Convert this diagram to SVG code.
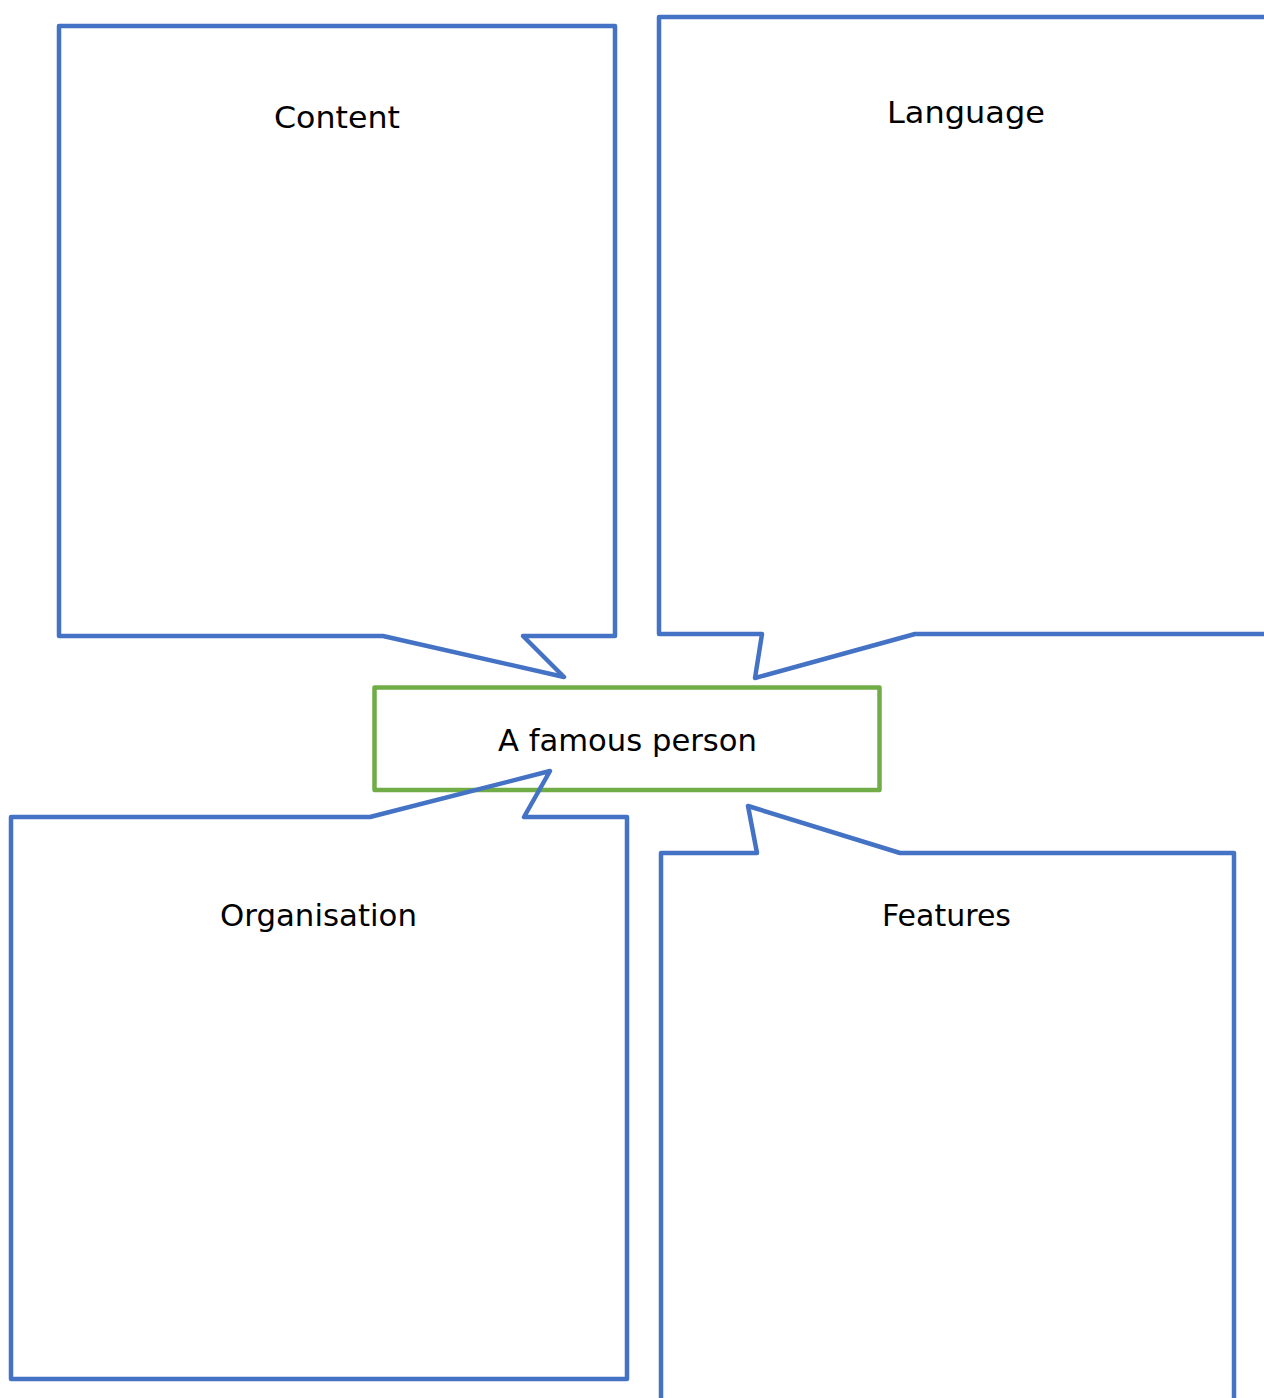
<svg xmlns="http://www.w3.org/2000/svg" width="1264" height="1398" viewBox="0 0 1264 1398">
  <style>
    .callout { fill: none; stroke: #4472C4; stroke-width: 4.5; stroke-linejoin: round; }
    .topic { fill: none; stroke: #70AD47; stroke-width: 4.5; stroke-linejoin: round; }
    .label { font-family: "DejaVu Sans", "Liberation Sans", sans-serif; font-size: 31px; fill: #000; text-anchor: middle; }
  </style>
  <rect width="1264" height="1398" fill="#ffffff"/>

  <!-- central topic -->
  <g id="topic">
    <rect class="topic" x="374.5" y="687.5" width="505" height="102.5"/>
    <text class="label" x="627.5" y="751" textLength="259" lengthAdjust="spacingAndGlyphs">A famous person</text>
  </g>

  <!-- callout boxes; each tail points at the central topic -->
  <g id="connectors">
    <g id="content">
      <path class="callout" d="M59,26 H615 V636 H523 L564,677 L383,636 H59 Z"/>
      <text class="label" x="337" y="128" textLength="126" lengthAdjust="spacingAndGlyphs">Content</text>
    </g>
    <g id="language">
      <path class="callout" d="M1270,17 H659 V634 H762 L755,678 L915,634 H1270"/>
      <text class="label" x="966" y="123" textLength="158" lengthAdjust="spacingAndGlyphs">Language</text>
    </g>
    <g id="organisation">
      <path class="callout" d="M11,817 H370 L550,771 L524,817 H627 V1379 H11 Z"/>
      <text class="label" x="318.5" y="926" textLength="197" lengthAdjust="spacingAndGlyphs">Organisation</text>
    </g>
    <g id="features">
      <path class="callout" d="M661,1405 V853 H757 L748,806 L900,853 H1234 V1405"/>
      <text class="label" x="946.5" y="926" textLength="129" lengthAdjust="spacingAndGlyphs">Features</text>
    </g>
  </g>
</svg>
